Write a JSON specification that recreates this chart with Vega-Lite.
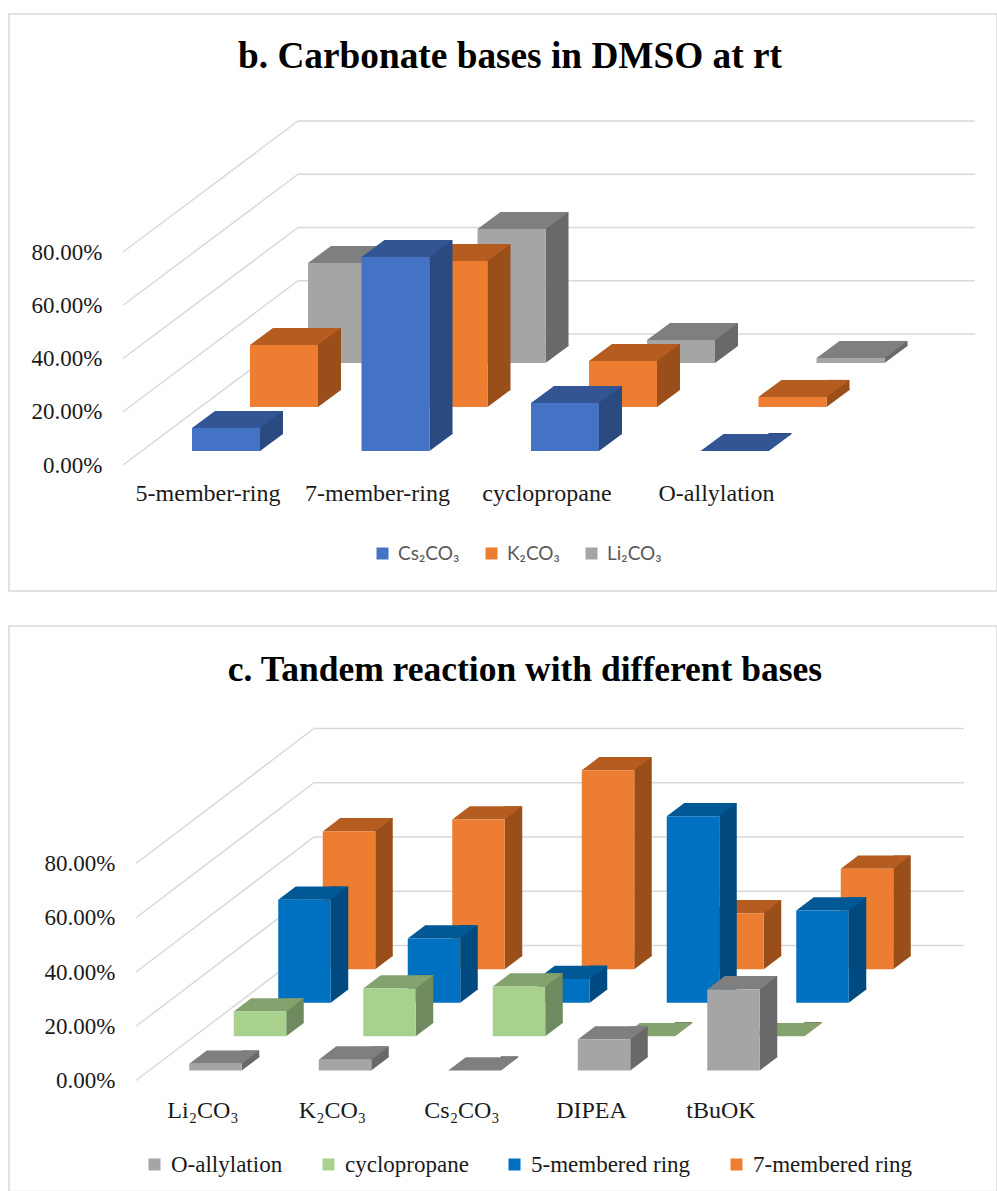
{"$schema":"https://vega.github.io/schema/vega-lite/v6.json","autosize":{"type":"pad"},"padding":{"left":8,"top":13,"right":0,"bottom":0},"background":"white","spacing":33,
"resolve":{"scale":{"color":"independent"},"legend":{"color":"independent"}},
"config":{"view":{"stroke":"#d9d9d9","strokeWidth":1.5}},
"datasets":{
"b":[{"category":"5-member-ring","series":"Cs₂CO₃","value":0.086},{"category":"7-member-ring","series":"Cs₂CO₃","value":0.729},{"category":"cyclopropane","series":"Cs₂CO₃","value":0.18},{"category":"O-allylation","series":"Cs₂CO₃","value":0},
{"category":"5-member-ring","series":"K₂CO₃","value":0.233},{"category":"7-member-ring","series":"K₂CO₃","value":0.548},{"category":"cyclopropane","series":"K₂CO₃","value":0.173},{"category":"O-allylation","series":"K₂CO₃","value":0.038},
{"category":"5-member-ring","series":"Li₂CO₃","value":0.376},{"category":"7-member-ring","series":"Li₂CO₃","value":0.503},{"category":"cyclopropane","series":"Li₂CO₃","value":0.086},{"category":"O-allylation","series":"Li₂CO₃","value":0.019}],
"c":[{"category":"Li₂CO₃","series":"O-allylation","value":0.025},{"category":"K₂CO₃","series":"O-allylation","value":0.04},{"category":"Cs₂CO₃","series":"O-allylation","value":0},{"category":"DIPEA","series":"O-allylation","value":0.114},{"category":"tBuOK","series":"O-allylation","value":0.299},
{"category":"Li₂CO₃","series":"cyclopropane","value":0.091},{"category":"K₂CO₃","series":"cyclopropane","value":0.176},{"category":"Cs₂CO₃","series":"cyclopropane","value":0.183},{"category":"DIPEA","series":"cyclopropane","value":0},{"category":"tBuOK","series":"cyclopropane","value":0},
{"category":"Li₂CO₃","series":"5-membered ring","value":0.38},{"category":"K₂CO₃","series":"5-membered ring","value":0.237},{"category":"Cs₂CO₃","series":"5-membered ring","value":0.088},{"category":"DIPEA","series":"5-membered ring","value":0.688},{"category":"tBuOK","series":"5-membered ring","value":0.34},
{"category":"Li₂CO₃","series":"7-membered ring","value":0.508},{"category":"K₂CO₃","series":"7-membered ring","value":0.552},{"category":"Cs₂CO₃","series":"7-membered ring","value":0.733},{"category":"DIPEA","series":"7-membered ring","value":0.206},{"category":"tBuOK","series":"7-membered ring","value":0.37}],
"ticks":[{"tick":0},{"tick":0.2},{"tick":0.4},{"tick":0.6},{"tick":0.8}]},
"vconcat":[
{"width":988,"height":577,
"title":{"text":"b. Carbonate bases in DMSO at rt","font":"Liberation Serif","fontSize":37.3,"fontWeight":"bold","color":"#000000","anchor":"middle","frame":"group","dx":7,"offset":-62},
"data":{"name":"b"},
"encoding":{
"x":{"field":"category","type":"nominal","sort":null,"title":null,"scale":{"type":"band","domain":["5-member-ring","7-member-ring","cyclopropane","O-allylation"],"range":[114.25,792.25],"paddingInner":0,"paddingOuter":0},"axis":{"domain":false,"ticks":false,"labelAngle":0,"labelFont":"Liberation Serif","labelFontSize":24,"labelColor":"#1a1a1a","labelPadding":0,"labelBaseline":"middle","offset":-98}},
"y":{"field":"value","type":"quantitative","title":null,"scale":{"domain":[0,0.8],"range":[451,238],"nice":false},"axis":{"values":[0,0.2,0.4,0.6,0.8],"format":".2%","domain":false,"ticks":false,"grid":false,"labelFont":"Liberation Serif","labelFontSize":23,"labelColor":"#1a1a1a","labelPadding":0,"offset":-93}}},
"layer":[
{"data":{"name":"ticks"},"mark":{"type":"point","shape":"M-85,0 L90,-131 L767,-131","size":4,"filled":false,"opacity":1,"stroke":"#d9d9d9","strokeWidth":1.5},"encoding":{"x":{"datum":"5-member-ring"},"y":{"field":"tick","type":"quantitative"}}},

{"transform":[{"filter":{"field":"series","equal":"Li₂CO₃"}}],"mark":{"type":"bar","width":23,"xOffset":179.5,"yOffset":-119,"y2Offset":-119,"color":"#696969"},"encoding":{"y2":{"datum":0}}},
{"transform":[{"filter":{"field":"series","equal":"Li₂CO₃"}}],"mark":{"type":"point","shape":"M34,0 L34,-18 L57,-18 L57,-17 Z","size":4,"filled":true,"opacity":1,"color":"#696969","strokeWidth":0,"xOffset":134,"yOffset":-102},"encoding":{"y":{"datum":0}}},
{"transform":[{"filter":{"field":"series","equal":"Li₂CO₃"}}],"mark":{"type":"point","shape":"M-34,0 L34,0 L57,-17 L-11,-17 Z","size":4,"filled":true,"opacity":1,"color":"#7f7f7f","strokeWidth":0,"xOffset":134,"yOffset":-102}},
{"transform":[{"filter":{"field":"series","equal":"Li₂CO₃"}}],"mark":{"type":"bar","width":68,"xOffset":134,"yOffset":-102,"y2Offset":-102},"encoding":{"y2":{"datum":0},"color":{"field":"series","type":"nominal"}}},

{"transform":[{"filter":{"field":"series","equal":"K₂CO₃"}}],"mark":{"type":"bar","width":23,"xOffset":121.5,"yOffset":-75,"y2Offset":-75,"color":"#9a4f1b"},"encoding":{"y2":{"datum":0}}},
{"transform":[{"filter":{"field":"series","equal":"K₂CO₃"}}],"mark":{"type":"point","shape":"M34,0 L34,-18 L57,-18 L57,-17 Z","size":4,"filled":true,"opacity":1,"color":"#9a4f1b","strokeWidth":0,"xOffset":76,"yOffset":-58},"encoding":{"y":{"datum":0}}},
{"transform":[{"filter":{"field":"series","equal":"K₂CO₃"}}],"mark":{"type":"point","shape":"M-34,0 L34,0 L57,-17 L-11,-17 Z","size":4,"filled":true,"opacity":1,"color":"#b55d21","strokeWidth":0,"xOffset":76,"yOffset":-58}},
{"transform":[{"filter":{"field":"series","equal":"K₂CO₃"}}],"mark":{"type":"bar","width":68,"xOffset":76,"yOffset":-58,"y2Offset":-58},"encoding":{"y2":{"datum":0},"color":{"field":"series","type":"nominal"}}},

{"transform":[{"filter":{"field":"series","equal":"Cs₂CO₃"}}],"mark":{"type":"bar","width":23,"xOffset":63.5,"yOffset":-31,"y2Offset":-31,"color":"#2a4a80"},"encoding":{"y2":{"datum":0}}},
{"transform":[{"filter":{"field":"series","equal":"Cs₂CO₃"}}],"mark":{"type":"point","shape":"M34,0 L34,-18 L57,-18 L57,-17 Z","size":4,"filled":true,"opacity":1,"color":"#2a4a80","strokeWidth":0,"xOffset":18,"yOffset":-14},"encoding":{"y":{"datum":0}}},
{"transform":[{"filter":{"field":"series","equal":"Cs₂CO₃"}}],"mark":{"type":"point","shape":"M-34,0 L34,0 L57,-17 L-11,-17 Z","size":4,"filled":true,"opacity":1,"color":"#335593","strokeWidth":0,"xOffset":18,"yOffset":-14}},
{"transform":[{"filter":{"field":"series","equal":"Cs₂CO₃"}}],"mark":{"type":"bar","width":68,"xOffset":18,"yOffset":-14,"y2Offset":-14},"encoding":{"y2":{"datum":0},"color":{"field":"series","type":"nominal","scale":{"domain":["Cs₂CO₃","K₂CO₃","Li₂CO₃"],"range":["#4472c4","#ed7d31","#a5a5a5"]},"legend":{"title":null,"orient":"none","legendX":364,"legendY":530,"direction":"horizontal","columns":3,"symbolType":"square","symbolSize":144,"symbolStrokeWidth":0,"symbolOpacity":1,"labelFont":"Lato","labelFontSize":19,"labelColor":"#595959","labelOffset":6,"columnPadding":22,"gridAlign":"none"}}}}
]},
{"width":988,"height":565.5,
"title":{"text":"c. Tandem reaction with different bases","font":"Liberation Serif","fontSize":35.5,"fontWeight":"bold","color":"#000000","anchor":"middle","frame":"group","dx":22,"offset":-62},
"data":{"name":"c"},
"encoding":{
"x":{"field":"category","type":"nominal","sort":null,"title":null,"scale":{"type":"band","domain":["Li₂CO₃","K₂CO₃","Cs₂CO₃","DIPEA","tBuOK"],"range":[129.25,776.75],"paddingInner":0,"paddingOuter":0},"axis":{"domain":false,"ticks":false,"labelAngle":0,"labelFont":"Liberation Serif","labelFontSize":24,"labelColor":"#1a1a1a","labelPadding":0,"labelBaseline":"middle","offset":-81}},
"y":{"field":"value","type":"quantitative","title":null,"scale":{"domain":[0,0.8],"range":[454.5,237.5],"nice":false},"axis":{"values":[0,0.2,0.4,0.6,0.8],"format":".2%","domain":false,"ticks":false,"grid":false,"labelFont":"Liberation Serif","labelFontSize":23,"labelColor":"#1a1a1a","labelPadding":0,"offset":-106}}},
"layer":[
{"data":{"name":"ticks"},"mark":{"type":"point","shape":"M-67,0 L111,-135 L761,-135","size":4,"filled":false,"opacity":1,"stroke":"#d9d9d9","strokeWidth":1.5},"encoding":{"x":{"datum":"Li₂CO₃"},"y":{"field":"tick","type":"quantitative"}}},

{"transform":[{"filter":{"field":"series","equal":"7-membered ring"}}],"mark":{"type":"bar","width":17.5,"xOffset":181,"yOffset":-124.6,"y2Offset":-124.6,"color":"#9a4f1b"},"encoding":{"y2":{"datum":0}}},
{"transform":[{"filter":{"field":"series","equal":"7-membered ring"}}],"mark":{"type":"point","shape":"M26.25,0 L26.25,-14.3 L43.75,-14.3 L43.75,-13.3 Z","size":4,"filled":true,"opacity":1,"color":"#9a4f1b","strokeWidth":0,"xOffset":146,"yOffset":-111.3},"encoding":{"y":{"datum":0}}},
{"transform":[{"filter":{"field":"series","equal":"7-membered ring"}}],"mark":{"type":"point","shape":"M-26.25,0 L26.25,0 L43.75,-13.3 L-8.75,-13.3 Z","size":4,"filled":true,"opacity":1,"color":"#b55d21","strokeWidth":0,"xOffset":146,"yOffset":-111.3}},
{"transform":[{"filter":{"field":"series","equal":"7-membered ring"}}],"mark":{"type":"bar","width":52.5,"xOffset":146,"yOffset":-111.3,"y2Offset":-111.3},"encoding":{"y2":{"datum":0},"color":{"field":"series","type":"nominal"}}},

{"transform":[{"filter":{"field":"series","equal":"5-membered ring"}}],"mark":{"type":"bar","width":17.5,"xOffset":136.5,"yOffset":-91,"y2Offset":-91,"color":"#004a80"},"encoding":{"y2":{"datum":0}}},
{"transform":[{"filter":{"field":"series","equal":"5-membered ring"}}],"mark":{"type":"point","shape":"M26.25,0 L26.25,-14.3 L43.75,-14.3 L43.75,-13.3 Z","size":4,"filled":true,"opacity":1,"color":"#004a80","strokeWidth":0,"xOffset":101.5,"yOffset":-77.7},"encoding":{"y":{"datum":0}}},
{"transform":[{"filter":{"field":"series","equal":"5-membered ring"}}],"mark":{"type":"point","shape":"M-26.25,0 L26.25,0 L43.75,-13.3 L-8.75,-13.3 Z","size":4,"filled":true,"opacity":1,"color":"#005894","strokeWidth":0,"xOffset":101.5,"yOffset":-77.7}},
{"transform":[{"filter":{"field":"series","equal":"5-membered ring"}}],"mark":{"type":"bar","width":52.5,"xOffset":101.5,"yOffset":-77.7,"y2Offset":-77.7},"encoding":{"y2":{"datum":0},"color":{"field":"series","type":"nominal"}}},

{"transform":[{"filter":{"field":"series","equal":"cyclopropane"}}],"mark":{"type":"bar","width":17.5,"xOffset":92,"yOffset":-57.6,"y2Offset":-57.6,"color":"#6f8a5e"},"encoding":{"y2":{"datum":0}}},
{"transform":[{"filter":{"field":"series","equal":"cyclopropane"}}],"mark":{"type":"point","shape":"M26.25,0 L26.25,-14.3 L43.75,-14.3 L43.75,-13.3 Z","size":4,"filled":true,"opacity":1,"color":"#6f8a5e","strokeWidth":0,"xOffset":57,"yOffset":-44.3},"encoding":{"y":{"datum":0}}},
{"transform":[{"filter":{"field":"series","equal":"cyclopropane"}}],"mark":{"type":"point","shape":"M-26.25,0 L26.25,0 L43.75,-13.3 L-8.75,-13.3 Z","size":4,"filled":true,"opacity":1,"color":"#83a26d","strokeWidth":0,"xOffset":57,"yOffset":-44.3}},
{"transform":[{"filter":{"field":"series","equal":"cyclopropane"}}],"mark":{"type":"bar","width":52.5,"xOffset":57,"yOffset":-44.3,"y2Offset":-44.3},"encoding":{"y2":{"datum":0},"color":{"field":"series","type":"nominal"}}},

{"transform":[{"filter":{"field":"series","equal":"O-allylation"}}],"mark":{"type":"bar","width":17.5,"xOffset":47.5,"yOffset":-23.3,"y2Offset":-23.3,"color":"#696969"},"encoding":{"y2":{"datum":0}}},
{"transform":[{"filter":{"field":"series","equal":"O-allylation"}}],"mark":{"type":"point","shape":"M26.25,0 L26.25,-14.3 L43.75,-14.3 L43.75,-13.3 Z","size":4,"filled":true,"opacity":1,"color":"#696969","strokeWidth":0,"xOffset":12.5,"yOffset":-10},"encoding":{"y":{"datum":0}}},
{"transform":[{"filter":{"field":"series","equal":"O-allylation"}}],"mark":{"type":"point","shape":"M-26.25,0 L26.25,0 L43.75,-13.3 L-8.75,-13.3 Z","size":4,"filled":true,"opacity":1,"color":"#7f7f7f","strokeWidth":0,"xOffset":12.5,"yOffset":-10}},
{"transform":[{"filter":{"field":"series","equal":"O-allylation"}}],"mark":{"type":"bar","width":52.5,"xOffset":12.5,"yOffset":-10,"y2Offset":-10},"encoding":{"y2":{"datum":0},"color":{"field":"series","type":"nominal","scale":{"domain":["O-allylation","cyclopropane","5-membered ring","7-membered ring"],"range":["#a5a5a5","#a9d18e","#0070c0","#ed7d31"]},"legend":{"title":null,"orient":"none","legendX":134,"legendY":527,"direction":"horizontal","columns":4,"symbolType":"square","symbolSize":144,"symbolStrokeWidth":0,"symbolOpacity":1,"labelFont":"Liberation Serif","labelFontSize":23,"labelColor":"#1a1a1a","labelOffset":5,"columnPadding":34,"gridAlign":"none"}}}}
]}
]}
